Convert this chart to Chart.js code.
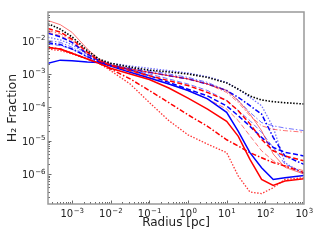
<!DOCTYPE html>
<html>
<head>
<meta charset="utf-8">
<script src="https://cdn.jsdelivr.net/npm/chart.js@4.4.0/dist/chart.umd.min.js"></script>
<style>
  html, body { margin: 0; padding: 0; background: #fff; }
</style>
</head>
<body>
<canvas id="h2frac" width="320" height="240"></canvas>
<script>
// radius samples [pc]
var radius = [2.4e-4, 5e-4, 1e-3, 2.5e-3, 5e-3, 1e-2, 3.2e-2, 0.1, 0.32, 1, 3.2, 10, 20, 40, 80, 160, 320, 1000];

// H2 fraction profiles
var blackDot  = [3.2e-2, 2.2e-2, 1.3e-2, 5.0e-3, 2.8e-3, 2.1e-3, 1.6e-3, 1.3e-3, 1.15e-3, 1.0e-3, 7.9e-4, 5.4e-4, 3.5e-4, 2.2e-4, 1.66e-4, 1.48e-4, 1.38e-4, 1.26e-4];
var redThin   = [4.0e-2, 3.0e-2, 1.78e-2, 5.6e-3, 2.8e-3, 1.9e-3, 1.41e-3, 1.12e-3, 8.9e-4, 7.1e-4, 5.0e-4, 3.2e-4, 1.6e-4, 6.3e-5, 2.0e-5, 4.0e-6, 1.6e-6, 1.0e-6];
var redDash   = [2.3e-2, 1.8e-2, 1.1e-2, 4.5e-3, 2.5e-3, 1.8e-3, 1.26e-3, 8.9e-4, 6.3e-4, 4.5e-4, 2.8e-4, 1.6e-4, 7.9e-5, 3.2e-5, 1.1e-5, 5.0e-6, 3.5e-6, 2.5e-6];
var redDDThin = [2.0e-2, 1.6e-2, 1.0e-2, 4.0e-3, 2.5e-3, 1.86e-3, 1.41e-3, 1.12e-3, 8.9e-4, 7.1e-4, 5.0e-4, 2.8e-4, 1.4e-4, 5.6e-5, 2.8e-5, 2.2e-5, 2.0e-5, 1.8e-5];
var blueDash  = [1.66e-2, 1.3e-2, 8.9e-3, 4.0e-3, 2.5e-3, 1.86e-3, 1.32e-3, 8.9e-4, 5.6e-4, 3.5e-4, 2.2e-4, 1.1e-4, 5.6e-5, 2.7e-5, 1.26e-5, 6.3e-6, 4.5e-6, 3.5e-6];
var blueDot   = [1.26e-2, 1.05e-2, 7.6e-3, 3.8e-3, 2.6e-3, 2.1e-3, 1.74e-3, 1.48e-3, 1.26e-3, 1.07e-3, 8.3e-4, 5.6e-4, 3.5e-4, 2.0e-4, 1.12e-4, 2.5e-5, 2.2e-6, 1.0e-6];
var blueDDThin= [1.0e-2, 8.9e-3, 6.3e-3, 3.5e-3, 2.4e-3, 1.9e-3, 1.51e-3, 1.26e-3, 1.0e-3, 7.9e-4, 5.6e-4, 3.2e-4, 1.6e-4, 7.1e-5, 3.5e-5, 2.8e-5, 2.4e-5, 2.0e-5];
var blueDD    = [8.7e-3, 7.6e-3, 5.6e-3, 3.3e-3, 2.3e-3, 1.8e-3, 1.41e-3, 1.12e-3, 8.9e-4, 7.1e-4, 5.0e-4, 3.2e-4, 2.0e-4, 1.12e-4, 6.3e-5, 1.26e-5, 3.5e-6, 1.95e-6];
var redSolid  = [6.2e-3, 5.6e-3, 4.2e-3, 2.8e-3, 2.1e-3, 1.48e-3, 1.0e-3, 6.8e-4, 3.8e-4, 1.9e-4, 8.9e-5, 3.8e-5, 1.35e-5, 2.75e-6, 6.9e-7, 4.6e-7, 6.2e-7, 7.2e-7];
var blueSolid = [2.1e-3, 2.6e-3, 2.5e-3, 2.3e-3, 2.2e-3, 1.74e-3, 1.12e-3, 7.6e-4, 5.0e-4, 3.2e-4, 1.8e-4, 7.1e-5, 1.9e-5, 4.4e-6, 1.55e-6, 6.9e-7, 7.8e-7, 9.1e-7];
var redDot    = [5.6e-3, 5.0e-3, 4.0e-3, 2.8e-3, 2.1e-3, 1.26e-3, 5.0e-4, 1.4e-4, 4.0e-5, 1.5e-5, 7.9e-6, 4.4e-6, 8.7e-7, 2.9e-7, 2.6e-7, 3.9e-7, 6.9e-7, 7.8e-7];
var redDD     = [6.3e-3, 5.6e-3, 4.2e-3, 2.8e-3, 2.1e-3, 1.41e-3, 7.1e-4, 3.2e-4, 1.38e-4, 6.0e-5, 2.7e-5, 1.07e-5, 6.9e-6, 4.4e-6, 3.1e-6, 2.2e-6, 1.74e-6, 1.1e-6];
var redDashThin = [1.78e-2, 1.41e-2, 8.9e-3, 3.8e-3, 2.4e-3, 1.74e-3, 1.2e-3, 7.9e-4, 5.0e-4, 3.2e-4, 1.78e-4, 8.9e-5, 4.0e-5, 1.4e-5, 5.0e-6, 2.5e-6, 1.78e-6, 1.26e-6];
var blueDashThin = [7.9e-3, 7.1e-3, 5.6e-3, 3.2e-3, 2.3e-3, 1.8e-3, 1.32e-3, 1.0e-3, 7.1e-4, 5.0e-4, 3.2e-4, 1.6e-4, 7.9e-5, 4.0e-5, 1.78e-5, 6.3e-6, 2.0e-6, 1.1e-6];

// decade ticks, labels drawn as 10 with a raised exponent
var xTickValues = [1e-3, 1e-2, 1e-1, 1, 10, 100, 1000];
var xTickExps = ['\u22123', '\u22122', '\u22121', '0', '1', '2', '3'];
var yTickValues = [1e-6, 1e-5, 1e-4, 1e-3, 1e-2];
var yTickExps = ['\u22126', '\u22125', '\u22124', '\u22123', '\u22122'];

var RED = '#ff0000', RED_L = 'rgba(255,0,0,0.55)';
var BLUE = '#0000ff', BLUE_L = 'rgba(0,0,255,0.55)';
var DOT = [1.5, 1.6], DASH = [5, 2.5], DASHDOT = [5, 2, 1.5, 2];
var FONT = 'DejaVu Sans';

function profile(values, color, width, dash) {
  return {
    data: radius.map(function(r, i) { return {x: r, y: values[i]}; }),
    borderColor: color,
    borderWidth: width,
    borderDash: dash,
    pointRadius: 0,
    showLine: true,
    fill: false,
    tension: 0
  };
}

// writes "10" plus a small raised exponent; anchor is 'center' (x axis) or 'right' (y axis)
function powerLabel(ctx, exp, x, y, anchor) {
  ctx.font = '10px "' + FONT + '"';
  var wBase = ctx.measureText('10').width;
  ctx.font = '7px "' + FONT + '"';
  var wExp = ctx.measureText(exp).width;
  var left = anchor === 'center' ? x - (wBase + wExp) / 2 : x - (wBase + wExp);
  ctx.font = '10px "' + FONT + '"';
  ctx.fillText('10', left, y);
  ctx.font = '7px "' + FONT + '"';
  ctx.fillText(exp, left + wBase + 0.5, y - 4.5);
}

var frameTicks = {
  id: 'frameTicks',
  afterDatasetsDraw: function(chart) {
    var ctx = chart.ctx, a = chart.chartArea;
    var xs = chart.scales.x, ys = chart.scales.y;
    ctx.save();
    ctx.strokeStyle = '#444';
    ctx.lineWidth = 0.8;
    ctx.beginPath();
    for (var e = -4; e <= 3; e++) {
      for (var m = 1; m < 10; m++) {
        var v = m * Math.pow(10, e);
        var len = (m === 1) ? 3.5 : 2;
        if (v > xs.min && v < xs.max) {
          var px = Math.round(xs.getPixelForValue(v)) + 0.5;
          ctx.moveTo(px, a.bottom);
          ctx.lineTo(px, a.bottom - len);
        }
      }
    }
    for (var e2 = -7; e2 <= -1; e2++) {
      for (var m2 = 1; m2 < 10; m2++) {
        var w = m2 * Math.pow(10, e2);
        var len2 = (m2 === 1) ? 3.5 : 2;
        if (w > ys.min && w < ys.max) {
          var py = Math.round(ys.getPixelForValue(w)) + 0.5;
          ctx.moveTo(a.left, py);
          ctx.lineTo(a.left + len2, py);
        }
      }
    }
    ctx.stroke();
    ctx.strokeStyle = '#999';
    ctx.lineWidth = 1.5;
    ctx.strokeRect(a.left, a.top, a.right - a.left, a.bottom - a.top);

    ctx.fillStyle = '#222';
    ctx.textAlign = 'left';
    ctx.textBaseline = 'alphabetic';
    xTickValues.forEach(function(v, i) {
      powerLabel(ctx, xTickExps[i], xs.getPixelForValue(v), a.bottom + 13, 'center');
    });
    yTickValues.forEach(function(v, i) {
      powerLabel(ctx, yTickExps[i], a.left - 3, ys.getPixelForValue(v) + 4, 'right');
    });
    ctx.restore();
  }
};

var ctx = document.getElementById('h2frac').getContext('2d');
var config = {
  type: 'scatter',
  data: {
    datasets: [
      profile(blackDot, '#000000', 1.6, DOT),
      profile(redThin, RED_L, 1, []),
      profile(redDash, RED, 1.5, DASH),
      profile(redDDThin, RED_L, 1, DASHDOT),
      profile(blueDash, BLUE, 1.5, DASH),
      profile(blueDot, BLUE_L, 1.3, DOT),
      profile(blueDDThin, BLUE_L, 1, DASHDOT),
      profile(blueDD, BLUE, 1.5, DASHDOT),
      profile(redSolid, RED, 1.5, []),
      profile(blueSolid, BLUE, 1.5, []),
      profile(redDot, 'rgba(255,0,0,0.8)', 1.3, DOT),
      profile(redDD, RED, 1.5, DASHDOT),
      profile(redDashThin, RED_L, 1, DASH),
      profile(blueDashThin, BLUE_L, 1, DASH)
    ]
  },
  options: {
    responsive: false,
    animation: false,
    layout: { padding: { top: 12, right: 16, left: 0, bottom: 0 } },
    plugins: { legend: { display: false }, tooltip: { enabled: false } },
    scales: {
      x: {
        type: 'logarithmic',
        min: 2.4e-4,
        max: 1000,
        grid: { display: false },
        border: { display: false },
        afterBuildTicks: function(s) { s.ticks = xTickValues.map(function(v) { return {value: v}; }); },
        afterFit: function(s) { s.height = 36; },
        ticks: { display: false },
        title: {
          display: true,
          text: 'Radius [pc]',
          color: '#222',
          font: { family: FONT, size: 12 },
          padding: { top: 0, bottom: 10 }
        }
      },
      y: {
        type: 'logarithmic',
        min: 1.27e-7,
        max: 7.2e-2,
        grid: { display: false },
        border: { display: false },
        afterBuildTicks: function(s) { s.ticks = yTickValues.map(function(v) { return {value: v}; }); },
        afterFit: function(s) { s.width = 48; },
        ticks: { display: false },
        title: {
          display: true,
          text: 'H\u2082 Fraction',
          color: '#222',
          font: { family: FONT, size: 12.5 },
          padding: { top: 5, bottom: 0 }
        }
      }
    }
  },
  plugins: [frameTicks]
};

var h2Chart = new Chart(ctx, config);
</script>
</body>
</html>
